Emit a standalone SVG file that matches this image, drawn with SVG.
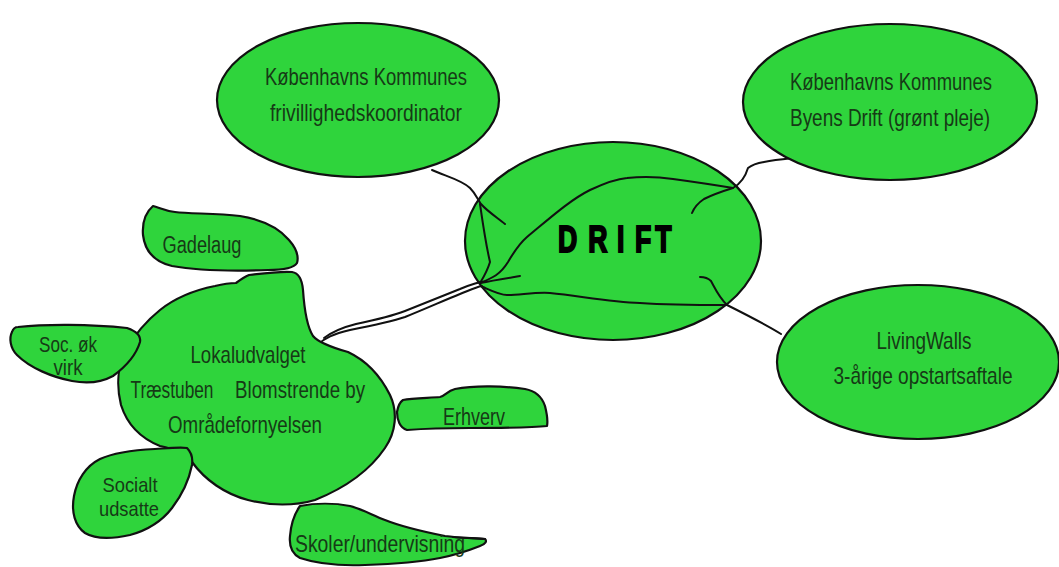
<svg xmlns="http://www.w3.org/2000/svg" width="1059" height="567" viewBox="0 0 1059 567">
<style>
.n{fill:#2fd43c;stroke:#111;stroke-width:2.2;stroke-linejoin:round}
.t{font-family:"Liberation Sans","Noto Sans",sans-serif;fill:#163a16;text-anchor:middle}
.c{fill:none;stroke:#111;stroke-width:2;stroke-linecap:round;stroke-linejoin:round}
</style>
<rect width="1059" height="567" fill="#fff"/>
<g id="node-drift">
<ellipse class="n" cx="613" cy="241" rx="148" ry="99"/>
<text transform="scale(0.72,1)" font-family="Liberation Sans, sans-serif" font-weight="bold" font-size="37" fill="#000" stroke="#000" stroke-width="2" y="252"><tspan x="775">D</tspan><tspan x="817">R</tspan><tspan x="857">I</tspan><tspan x="882">F</tspan><tspan x="910">T</tspan></text>
</g>
<g id="connectors">
<path class="c" d="M432,170 C445,176 462,180 470,188 C476,194 478,200 481,204 C488,212 498,218 505,224"/>
<path class="c" d="M480,204 C483,225 486,245 490,262 C487,272 483,278 480,283"/>
<path class="c" d="M480,283 C492,278 500,275 508,262 C515,250 520,243 527,237 C550,218 570,200 590,190 C605,183 615,179 627,178 C645,176 660,177 673,179 C695,182 715,185 733,188 C740,184 745,178 748,168 C753,164 758,163 764,162 C775,160 785,159 794,158"/>
<path class="c" d="M733,188 C720,192 710,196 704,199 C698,203 694,208 692,213"/>
<path class="c" d="M480,283 C495,280 508,278 520,276"/>
<path class="c" d="M483,287 C492,291 500,295 507,295 C520,295 535,292 550,293 C580,296 610,302 640,303 C670,305 700,305 727,305 C745,314 765,324 781,334"/>
<path class="c" d="M700,277 C705,277 708,278 711,281 C715,288 718,296 727,305"/>
<path class="c" d="M317,345 C325,338 333,334 350,330 C370,326 390,322 405,317 C425,309 445,300 460,294 C470,290 476,287 482,286"/>
<path class="c" d="M324,338 C332,332 340,328 356,324 C375,320 392,316 405,311 C425,303 445,295 460,289 C469,285 474,284 480,282"/>
</g>
<g id="node-frivillig">
<ellipse class="n" cx="358" cy="100" rx="141" ry="77"/>
<text class="t" x="366" y="85" font-size="24" textLength="202" lengthAdjust="spacingAndGlyphs">Københavns Kommunes</text>
<text class="t" x="366" y="121" font-size="24" textLength="192" lengthAdjust="spacingAndGlyphs">frivillighedskoordinator</text>
</g>
<g id="node-byensdrift">
<ellipse class="n" cx="890" cy="102" rx="147" ry="78"/>
<text class="t" x="891" y="90" font-size="24" textLength="202" lengthAdjust="spacingAndGlyphs">Københavns Kommunes</text>
<text class="t" x="890" y="126" font-size="24" textLength="200" lengthAdjust="spacingAndGlyphs">Byens Drift (grønt pleje)</text>
</g>
<g id="node-livingwalls">
<ellipse class="n" cx="918" cy="362" rx="141" ry="77"/>
<text class="t" x="924" y="349" font-size="24" textLength="95" lengthAdjust="spacingAndGlyphs">LivingWalls</text>
<text class="t" x="923" y="384" font-size="24" textLength="179" lengthAdjust="spacingAndGlyphs">3-årige opstartsaftale</text>
</g>
<g id="node-gadelaug">
<path class="n" d="M153,206 C146,212 142,222 143,235 C145,252 155,262 172,266 C200,271 240,271 268,270 C285,270 294,268 297,263 C299,256 296,248 289,240 C279,228 264,220 240,216 C215,213 190,214 175,212 C165,211 160,208 153,206 Z"/>
<text class="t" x="202" y="253" font-size="23" textLength="79" lengthAdjust="spacingAndGlyphs">Gadelaug</text>
</g>
<g id="node-main">
<path class="n" d="M236,283 C240,280 244,277 249,275 C265,273 282,271 292,272 C298,273 302,278 303,290 C304,305 306,325 313,336 C318,342 330,347 348,352 C365,360 380,375 390,395 C398,412 396,432 385,448 C370,470 345,488 315,500 C295,506 270,506 248,500 C225,494 205,480 192,462 C185,453 175,449 160,446 C140,438 127,424 121,405 C116,385 118,365 126,350 C134,336 145,322 160,310 C175,298 195,290 215,286 C223,284 230,283 236,283 Z"/>
<text class="t" x="248" y="363" font-size="24" textLength="115" lengthAdjust="spacingAndGlyphs">Lokaludvalget</text>
<text class="t" x="172" y="398" font-size="24" textLength="83" lengthAdjust="spacingAndGlyphs">Træstuben</text>
<text class="t" x="300" y="398" font-size="24" textLength="130" lengthAdjust="spacingAndGlyphs">Blomstrende by</text>
<text class="t" x="245" y="433" font-size="24" textLength="154" lengthAdjust="spacingAndGlyphs">Områdefornyelsen</text>
</g>
<g id="node-socok">
<path class="n" d="M18,327 C45,324 90,324 127,328 C136,331 141,336 140,342 C137,352 128,365 113,376 C102,382 88,384 72,381 C52,377 30,368 17,355 C10,348 9,338 12,332 C13,329 15,327 18,327 Z"/>
<text class="t" x="68" y="352" font-size="22" textLength="58" lengthAdjust="spacingAndGlyphs">Soc. øk</text>
<text class="t" x="68" y="375" font-size="22" textLength="29" lengthAdjust="spacingAndGlyphs">virk</text>
</g>
<g id="node-socialt">
<path class="n" d="M187,448 C191,452 193,458 192,465 C189,480 182,495 172,508 C162,521 148,530 130,535 C112,539 95,539 85,533 C75,526 71,512 74,496 C77,480 86,466 100,459 C115,452 135,450 155,449 C170,448 180,447 187,448 Z"/>
<text class="t" x="130" y="492" font-size="21" textLength="55" lengthAdjust="spacingAndGlyphs">Socialt</text>
<text class="t" x="129" y="516" font-size="21" textLength="60" lengthAdjust="spacingAndGlyphs">udsatte</text>
</g>
<g id="node-skoler">
<path class="n" d="M300,506 C315,503 335,503 350,506 C362,509 372,515 385,520 C400,526 420,531 445,536 C460,538 475,538 485,539 C487,541 486,544 480,546 C470,550 455,555 440,558 C420,562 395,564 365,565 C340,566 318,564 300,558 C292,554 289,546 290,536 C291,524 295,513 300,506 Z"/>
<text class="t" x="380" y="552" font-size="24" textLength="170" lengthAdjust="spacingAndGlyphs">Skoler/undervisning</text>
<path class="c" d="M453,537 C465,538 476,538 485,539"/>
</g>
<g id="node-erhverv">
<path class="n" d="M403,400 C412,398 428,398 440,397 C445,396 447,391 455,389 C475,385 505,386 525,389 C536,391 542,397 545,406 C547,414 548,421 547,426 C530,428 500,428 470,428 C445,428 420,429 407,430 C400,428 397,420 397,412 C398,406 400,402 403,400 Z"/>
<text class="t" x="474" y="425" font-size="23" textLength="62" lengthAdjust="spacingAndGlyphs">Erhverv</text>
</g>
</svg>
